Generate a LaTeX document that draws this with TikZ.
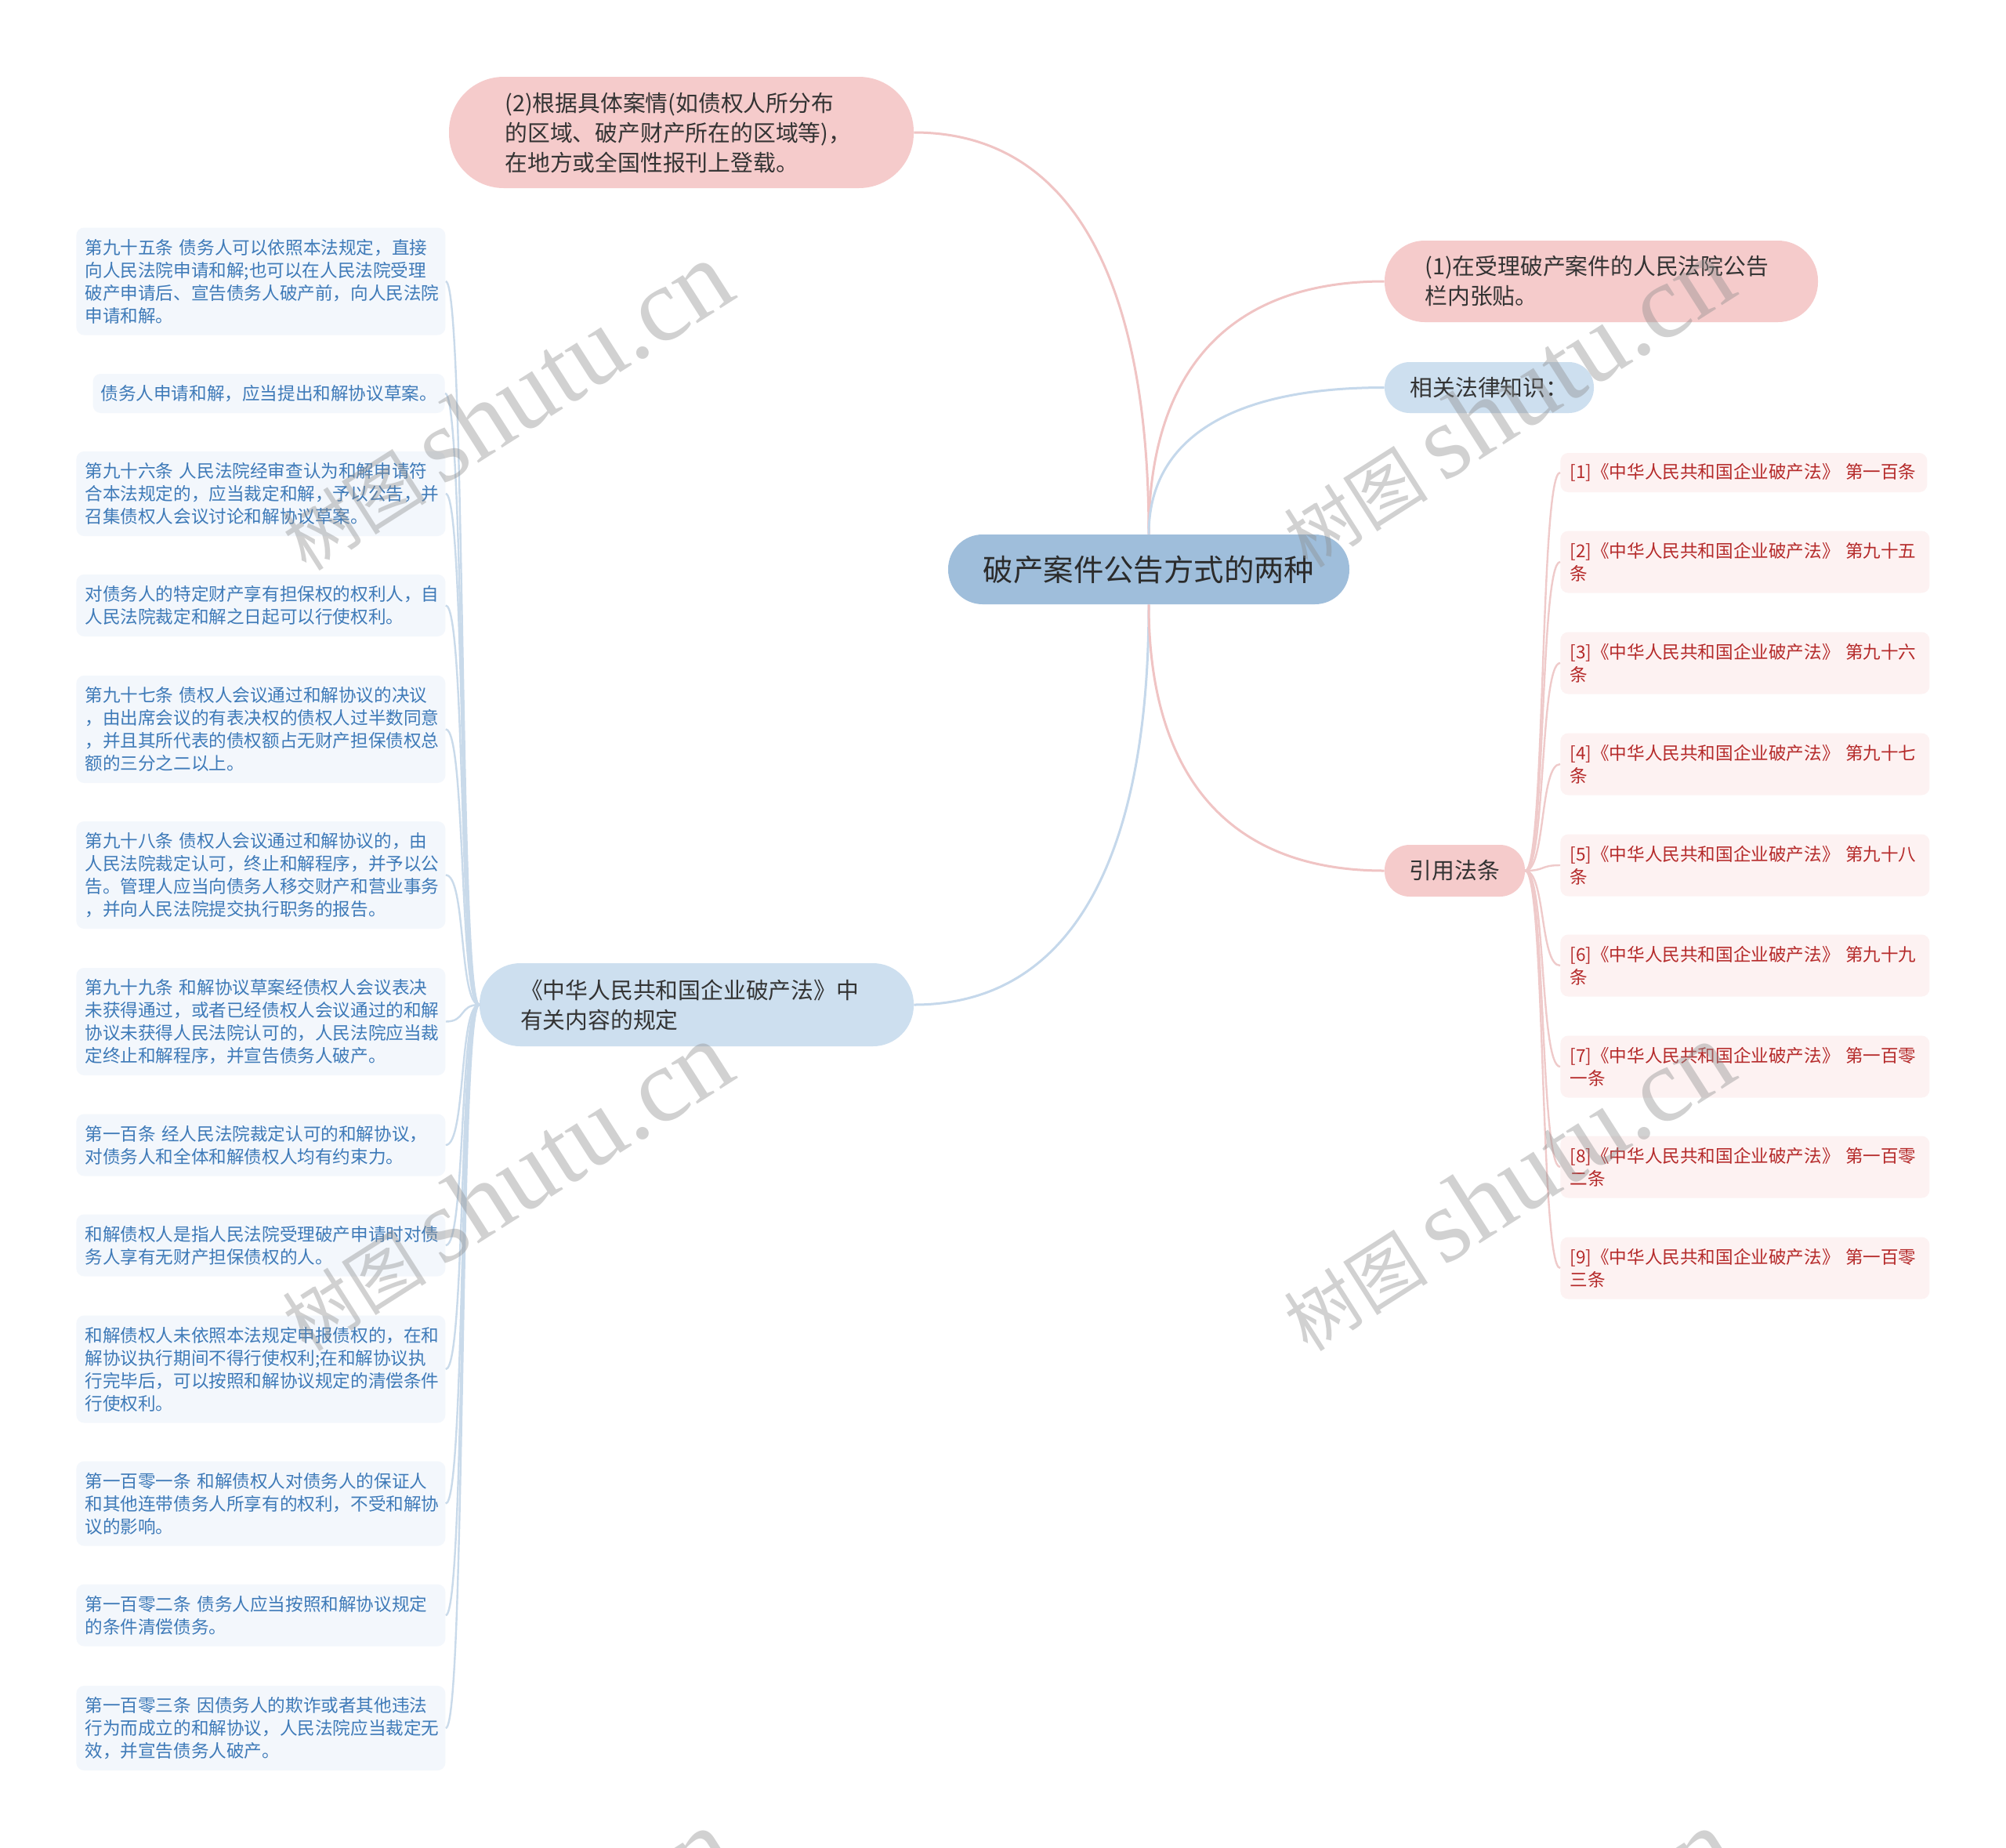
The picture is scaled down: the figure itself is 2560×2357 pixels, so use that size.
\documentclass[tikz,border=0pt]{standalone}
\usepackage{fontspec}
\setmainfont{Noto Sans CJK SC}
\newfontfamily\wmlatin{Liberation Serif}
\definecolor{cfill}{HTML}{9FBEDB}
\definecolor{ctext}{HTML}{2B2B2B}
\definecolor{pfill}{HTML}{F5CBCB}
\definecolor{bfill}{HTML}{CDDFEF}
\definecolor{onetext}{HTML}{333333}
\definecolor{lfill}{HTML}{F3F7FC}
\definecolor{ltext}{HTML}{3E7AB8}
\definecolor{rfill}{HTML}{FDF2F2}
\definecolor{rtext}{HTML}{B52A2A}
\definecolor{pline}{HTML}{F0C4C4}
\definecolor{bline}{HTML}{C5D8EB}
\definecolor{lsub}{HTML}{C9DAEA}
\definecolor{rsub}{HTML}{EFCACA}
\tikzset{
  centernode/.style={fill=cfill, text=ctext, font=\fontsize{19.2}{23}\selectfont,
    minimum width=256pt, minimum height=44.5pt, rounded corners=22pt, inner sep=0pt},
  onebox/.style={text=onetext, font=\fontsize{14.4}{19}\selectfont, inner sep=0pt},
  pinkone/.style={onebox, fill=pfill},
  blueone/.style={onebox, fill=bfill},
  leftleaf/.style={fill=lfill, text=ltext, font=\fontsize{11.3}{14.5}\selectfont,
    rounded corners=5pt, inner xsep=5.5pt, inner ysep=0pt, text width=224.5pt,
    align=left, anchor=west},
  rightleaf/.style={fill=rfill, text=rtext, font=\fontsize{11.3}{14.5}\selectfont,
    rounded corners=5pt, inner xsep=6pt, inner ysep=0pt, text width=223.5pt,
    align=left, anchor=west},
  lineone/.style={minimum height=25pt},
  linetwo/.style={minimum height=39.5pt},
  linethree/.style={minimum height=54pt},
  linefour/.style={minimum height=68.5pt},
  mainpink/.style={draw=pline, line width=1.5pt},
  mainblue/.style={draw=bline, line width=1.5pt},
  subleft/.style={draw=lsub, line width=1.2pt},
  subright/.style={draw=rsub, line width=1.2pt},
  wm/.style={text=black!45, text opacity=0.4, rotate=32.5, inner sep=0pt}
}
\begin{document}
\begin{tikzpicture}[x=0.5pt,y=-0.5pt]
\useasboundingbox (0,0) rectangle (2560,2357);
\fill[white] (0,0) rectangle (2560,2357);
\clip (0,0) rectangle (2560,2357);

% centre
\node[centernode] (root) at (1466,726.5) {破产案件公告方式的两种};

% first level
\node[pinkone, minimum width=296.5pt, minimum height=71pt, rounded corners=35pt,
  text width=225pt, align=left] (n2) at (869.5,169)
  {(2)根据具体案情(如债权人所分布\\的区域、破产财产所在的区域等)，\\在地方或全国性报刊上登载。};
\node[pinkone, minimum width=276.5pt, minimum height=52pt, rounded corners=25.5pt,
  text width=225pt, align=left] (n1) at (2043.5,359)
  {(1)在受理破产案件的人民法院公告\\栏内张贴。};
\node[blueone, minimum width=133.5pt, minimum height=32.5pt, rounded corners=16pt]
  (rel) at (1900.5,494.5) {相关法律知识：};
\node[pinkone, minimum width=89.5pt, minimum height=33pt, rounded corners=16pt]
  (cite) at (1856.5,1111) {引用法条};
\node[blueone, minimum width=277pt, minimum height=53pt, rounded corners=26pt,
  text width=225pt, align=left] (law) at (889,1282)
  {《中华人民共和国企业破产法》中\\有关内容的规定};

% left leaves
\node[leftleaf, linefour] (a1) at (97,359) {第九十五条 债务人可以依照本法规定，直接\\向人民法院申请和解;也可以在人民法院受理\\破产申请后、宣告债务人破产前，向人民法院\\申请和解。};
\node[fill=lfill, text=ltext, font=\fontsize{11.3}{14.5}\selectfont, rounded corners=5pt,
  inner sep=0pt, minimum width=224.5pt, lineone, anchor=east] (a2) at (568,502) {债务人申请和解，应当提出和解协议草案。};
\node[leftleaf, linethree] (a3) at (97,630) {第九十六条 人民法院经审查认为和解申请符\\合本法规定的，应当裁定和解，予以公告，并\\召集债权人会议讨论和解协议草案。};
\node[leftleaf, linetwo] (a4) at (97,772.5) {对债务人的特定财产享有担保权的权利人，自\\人民法院裁定和解之日起可以行使权利。};
\node[leftleaf, linefour] (a5) at (97,930.5) {第九十七条 债权人会议通过和解协议的决议\\，由出席会议的有表决权的债权人过半数同意\\，并且其所代表的债权额占无财产担保债权总\\额的三分之二以上。};
\node[leftleaf, linefour] (a6) at (97,1116.5) {第九十八条 债权人会议通过和解协议的，由\\人民法院裁定认可，终止和解程序，并予以公\\告。管理人应当向债务人移交财产和营业事务\\，并向人民法院提交执行职务的报告。};
\node[leftleaf, linefour] (a7) at (97,1303.5) {第九十九条 和解协议草案经债权人会议表决\\未获得通过，或者已经债权人会议通过的和解\\协议未获得人民法院认可的，人民法院应当裁\\定终止和解程序，并宣告债务人破产。};
\node[leftleaf, linetwo] (a8) at (97,1461) {第一百条 经人民法院裁定认可的和解协议，\\对债务人和全体和解债权人均有约束力。};
\node[leftleaf, linetwo] (a9) at (97,1589) {和解债权人是指人民法院受理破产申请时对债\\务人享有无财产担保债权的人。};
\node[leftleaf, linefour] (a10) at (97,1747) {和解债权人未依照本法规定申报债权的，在和\\解协议执行期间不得行使权利;在和解协议执\\行完毕后，可以按照和解协议规定的清偿条件\\行使权利。};
\node[leftleaf, linethree] (a11) at (97,1918.5) {第一百零一条 和解债权人对债务人的保证人\\和其他连带债务人所享有的权利，不受和解协\\议的影响。};
\node[leftleaf, linetwo] (a12) at (97,2061) {第一百零二条 债务人应当按照和解协议规定\\的条件清偿债务。};
\node[leftleaf, linethree] (a13) at (97,2205) {第一百零三条 因债务人的欺诈或者其他违法\\行为而成立的和解协议，人民法院应当裁定无\\效，并宣告债务人破产。};

% right leaves
\node[rightleaf, lineone, text width=222pt] (r1) at (1991,603) {[1]《中华人民共和国企业破产法》 第一百条};
\node[rightleaf, linetwo] (r2) at (1991,717) {[2]《中华人民共和国企业破产法》 第九十五\\条};
\node[rightleaf, linetwo] (r3) at (1991,846) {[3]《中华人民共和国企业破产法》 第九十六\\条};
\node[rightleaf, linetwo] (r4) at (1991,975) {[4]《中华人民共和国企业破产法》 第九十七\\条};
\node[rightleaf, linetwo] (r5) at (1991,1104) {[5]《中华人民共和国企业破产法》 第九十八\\条};
\node[rightleaf, linetwo] (r6) at (1991,1232) {[6]《中华人民共和国企业破产法》 第九十九\\条};
\node[rightleaf, linetwo] (r7) at (1991,1361) {[7]《中华人民共和国企业破产法》 第一百零\\一条};
\node[rightleaf, linetwo] (r8) at (1991,1489) {[8]《中华人民共和国企业破产法》 第一百零\\二条};
\node[rightleaf, linetwo] (r9) at (1991,1618) {[9]《中华人民共和国企业破产法》 第一百零\\三条};

% main connectors
\draw[mainpink] (root.north) .. controls +(0,-308) and +(210,0) .. (n2.east);
\draw[mainpink] (root.north) .. controls +(0,-194) and +(-211,0) .. (n1.west);
\draw[mainblue] (root.north) .. controls +(0,-112) and +(-211,0) .. (rel.west);
\draw[mainblue] (root.south) .. controls +(0,307) and +(210,0) .. (law.east);
\draw[mainpink] (root.south) .. controls +(0,204) and +(-211,0) .. (cite.west);

% sub connectors
\foreach \k in {a1,a2,a3,a4,a5,a6,a7,a8,a9,a10,a11,a12,a13}
  \draw[subleft] (law.west) .. controls +(-26,0) and +(26,0) .. (\k.east);
\foreach \k in {r1,r2,r3,r4,r5,r6,r7,r8,r9}
  \draw[subright] (cite.east) .. controls +(26,0) and +(-26,0) .. (\k.west);

% watermarks
\foreach \wx/\wy/\wn in {645/518/w1,1923/514/w2,645/1514/w3,1923/1514/w4,645/2518/w5,1923/2518/w6}
  \node[wm] (\wn) at (\wx,\wy) {\fontsize{46}{46}\selectfont 树图 \wmlatin\fontsize{67}{67}\selectfont shutu.cn};
\end{tikzpicture}
\end{document}
